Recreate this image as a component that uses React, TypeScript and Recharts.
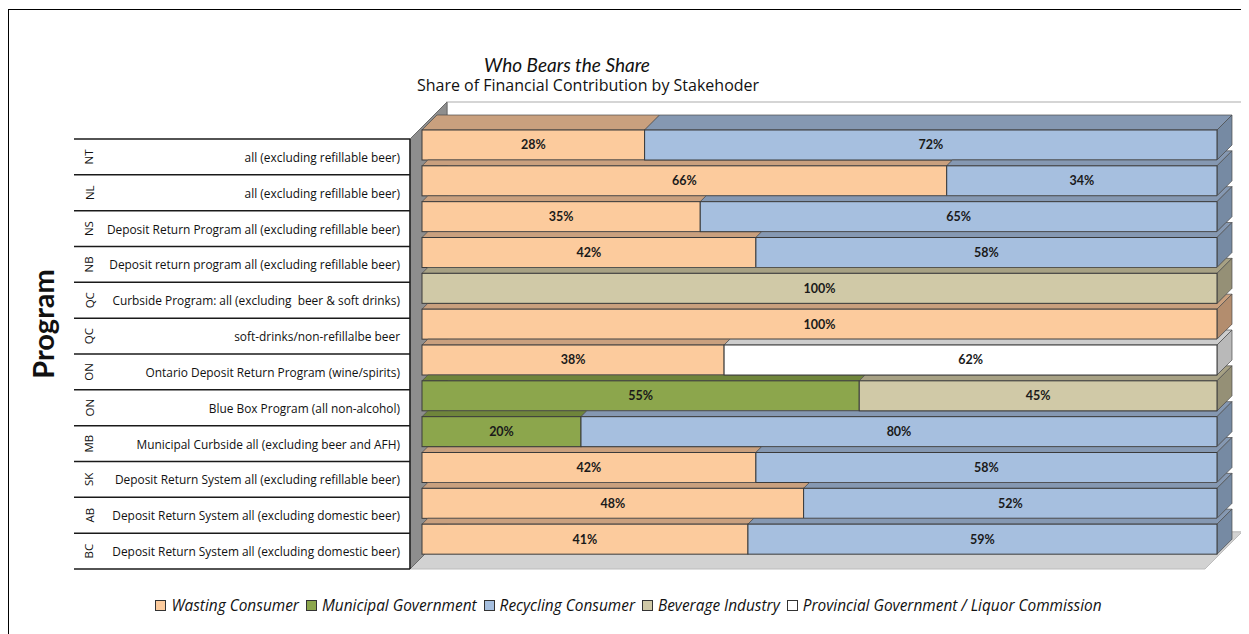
import { BarChart, Bar, XAxis, YAxis, LabelList, Legend } from "recharts";

const provinces = ["NT", "NL", "NS", "NB", "QC", "QC", "ON", "ON", "MB", "SK", "AB", "BC"];
const programs = [
  "all (excluding refillable beer)",
  "all (excluding refillable beer)",
  "Deposit Return Program all (excluding refillable beer)",
  "Deposit return program all (excluding refillable beer)",
  "Curbside Program: all (excluding  beer & soft drinks)",
  "soft-drinks/non-refillalbe beer",
  "Ontario Deposit Return Program (wine/spirits)",
  "Blue Box Program (all non-alcohol)",
  "Municipal Curbside all (excluding beer and AFH)",
  "Deposit Return System all (excluding refillable beer)",
  "Deposit Return System all (excluding domestic beer)",
  "Deposit Return System all (excluding domestic beer)",
];

// share (%) per stakeholder, same order as programs
const wastingConsumer = [28, 66, 35, 42, 0, 100, 38, 0, 0, 42, 48, 41];
const municipalGovernment = [0, 0, 0, 0, 0, 0, 0, 55, 20, 0, 0, 0];
const recyclingConsumer = [72, 34, 65, 58, 0, 0, 0, 0, 80, 58, 52, 59];
const beverageIndustry = [0, 0, 0, 0, 100, 0, 0, 45, 0, 0, 0, 0];
const provincialGovernment = [0, 0, 0, 0, 0, 0, 62, 0, 0, 0, 0, 0];

const series = [
  { key: "wasting", name: "Wasting Consumer", values: wastingConsumer },
  { key: "municipal", name: "Municipal Government", values: municipalGovernment },
  { key: "recycling", name: "Recycling Consumer", values: recyclingConsumer },
  { key: "beverage", name: "Beverage Industry", values: beverageIndustry },
  { key: "provincial", name: "Provincial Government / Liquor Commission", values: provincialGovernment },
];

const colors: Record<string, { front: string; top: string; side: string }> = {
  wasting: { front: "#FCCB9D", top: "#C9A07E", side: "#B38D6E" },
  municipal: { front: "#8CA64C", top: "#6F853B", side: "#617535" },
  recycling: { front: "#A6BFDF", top: "#8598B2", side: "#768AA3" },
  beverage: { front: "#D0C9A7", top: "#A7A184", side: "#959076" },
  provincial: { front: "#FFFFFF", top: "#CDCDCD", side: "#B9B9B9" },
};

const data = provinces.map((p, i) => {
  const row: Record<string, any> = { key: String(i), province: p, program: programs[i] };
  series.forEach((s) => (row[s.key] = s.values[i]));
  return row;
});

const W = 1241;
const H = 626;
const FONT = "Lato, 'Liberation Sans', sans-serif";
const WIDE = "'Open Sans', 'Liberation Sans', sans-serif";
const MARGIN = { top: 119, right: 32, bottom: 77, left: 66 };
const AXIS_W = 348;
const PLOT_X = MARGIN.left + AXIS_W; // 414
const PLOT_R = W - MARGIN.right;
const PLOT_TOP = MARGIN.top;
const PLOT_BOTTOM = H - MARGIN.bottom;
const BAND = (PLOT_BOTTOM - PLOT_TOP) / data.length;
const BAR = 30;
const GAP = BAND - BAR;
const DEPTH = 15; // bar depth
const SHIFT = 12; // bars sit behind the front plane
const WALL = 37; // depth of walls / floor

const pts = (a: number[][]) => a.map((p) => p.join(",")).join(" ");

const makeShape = (idx: number) => (props: any) => {
  const { x, y, width, height, payload } = props;
  if (!width || width < 0.5) return <g />;
  const c = colors[series[idx].key];
  const xe = x + width;
  const isLast = series.slice(idx + 1).every((o) => !payload[o.key]);
  const isTop = payload.key === "0";
  const d = DEPTH;
  const g = GAP;
  let top: number[][];
  if (isTop) top = [[x, y], [x + d, y - d], [xe + d, y - d], [xe, y]];
  else if (isLast) top = [[x, y], [x + g, y - g], [xe, y - g], [xe + d - g, y - d], [xe + d, y - d], [xe, y]];
  else top = [[x, y], [x + g, y - g], [xe + g, y - g], [xe, y]];
  return (
    <g>
      <polygon points={pts(top)} fill={c.top} stroke="#4a4a4a" strokeWidth={0.7} strokeLinejoin="round" />
      {isLast && (
        <polygon
          points={pts([[xe, y], [xe + d, y - d], [xe + d, y + height - d], [xe, y + height]])}
          fill={c.side}
          stroke="#4a4a4a"
          strokeWidth={0.7}
          strokeLinejoin="round"
        />
      )}
      <rect x={x} y={y} width={width} height={height} fill={c.front} stroke="#3a3a3a" strokeWidth={1} />
    </g>
  );
};

function RowTick(props: any) {
  const { y, payload } = props;
  const i = Number(payload.value);
  const cy = y + SHIFT;
  const x0 = MARGIN.left;
  const ax = PLOT_X - SHIFT;
  return (
    <g>
      {i === 0 && <line x1={x0} x2={ax} y1={cy - BAND / 2} y2={cy - BAND / 2} stroke="#1a1a1a" strokeWidth={1.5} />}
      <line x1={x0} x2={ax} y1={cy + BAND / 2} y2={cy + BAND / 2} stroke="#1a1a1a" strokeWidth={1.5} />
      <text
        x={x0 + 15}
        y={cy}
        transform={`rotate(-90 ${x0 + 15} ${cy})`}
        textAnchor="middle"
        dominantBaseline="central"
        fontSize={11.5}
        fontFamily={WIDE}
        fill="#111"
      >
        {provinces[i]}
      </text>
      <text
        x={ax - 10}
        y={cy}
        textAnchor="end"
        dominantBaseline="central"
        fontSize={11.9}
        fontFamily={WIDE}
        fill="#111"
        style={{ whiteSpace: "pre" }}
      >
        {programs[i]}
      </text>
    </g>
  );
}

const renderLegend = () => (
  <div
    style={{
      display: "flex",
      justifyContent: "center",
      gap: 7,
      fontFamily: WIDE,
      fontStyle: "italic",
      fontSize: 15.4,
      color: "#111",
    }}
  >
    {series.map((s) => (
      <span key={s.key} style={{ display: "inline-flex", alignItems: "center" }}>
        <span
          style={{
            width: 9,
            height: 9,
            border: "1px solid #333",
            background: colors[s.key].front,
            marginRight: 5,
          }}
        />
        {s.name}
      </span>
    ))}
  </div>
);

function Backdrop() {
  const fx0 = PLOT_X - SHIFT;
  const fx1 = PLOT_R - SHIFT;
  const fy0 = PLOT_TOP + SHIFT;
  const fy1 = PLOT_BOTTOM + SHIFT;
  return (
    <svg width={W} height={H} style={{ position: "absolute", left: 0, top: 0 }}>
      <text x={559} y={64} textAnchor="middle" fontFamily={FONT} fontStyle="italic" fontSize={19} fill="#111">
        Who Bears the Share
      </text>
      <text x={580} y={83} textAnchor="middle" fontFamily={WIDE} fontSize={16} fill="#111">
        Share of Financial Contribution by Stakehoder
      </text>
      <text
        x={34}
        y={316}
        transform="rotate(-90 34 316)"
        textAnchor="middle"
        dominantBaseline="central"
        fontFamily={FONT}
        fontWeight={700}
        fontSize={29}
        fill="#111"
      >
        Program
      </text>
      {/* back wall */}
      <rect x={fx0 + WALL} y={fy0 - WALL} width={fx1 - fx0} height={fy1 - fy0} fill="#fff" stroke="#c8c8c8" strokeWidth={1.5} />
      {/* floor */}
      <polygon
        points={pts([[fx0, fy1], [fx1, fy1], [fx1 + WALL, fy1 - WALL], [fx0 + WALL, fy1 - WALL]])}
        fill="#d2d2d2"
        stroke="#bdbdbd"
        strokeWidth={1}
      />
      {/* left wall */}
      <polygon
        points={pts([[fx0, fy1], [fx0, fy0], [fx0 + WALL, fy0 - WALL], [fx0 + WALL, fy1 - WALL]])}
        fill="#8e8e8e"
        stroke="#6a6a6a"
        strokeWidth={1}
      />
      <line x1={fx0} x2={fx0} y1={fy0} y2={fy1} stroke="#222" strokeWidth={1.5} />
    </svg>
  );
}

export default function App() {
  return (
    <div style={{ position: "relative", width: W, height: H }}>
      <div
        style={{
          position: "absolute",
          left: 0,
          top: 1,
          width: W + 20,
          height: H + 20,
          borderLeft: "1.5px solid #000",
          borderTop: "1.5px solid #000",
          boxSizing: "border-box",
        }}
      />
      <Backdrop />
      <div style={{ position: "absolute", left: 0, top: 0 }}>
        <BarChart width={W} height={H} data={data} layout="vertical" margin={MARGIN} barSize={BAR}>
          <XAxis type="number" domain={[0, 100]} hide />
          <YAxis
            type="category"
            dataKey="key"
            width={AXIS_W}
            interval={0}
            axisLine={false}
            tickLine={false}
            tickSize={0}
            tickMargin={0}
            tick={<RowTick />}
          />
          <Legend
            layout="horizontal"
            verticalAlign="middle"
            align="center"
            content={renderLegend}
            wrapperStyle={{ top: 587, left: 0, width: W }}
          />
          {series.map((s, idx) => (
            <Bar
              key={s.key}
              dataKey={s.key}
              name={s.name}
              stackId="share"
              fill={colors[s.key].front}
              shape={makeShape(idx)}
              isAnimationActive={false}
            >
              <LabelList
                dataKey={s.key}
                position="center"
                formatter={(v: any) => (v ? `${v}%` : "")}
                style={{ fontFamily: FONT, fontWeight: 700, fontSize: 12.5, fill: "#1a1a1a" }}
              />
            </Bar>
          ))}
        </BarChart>
      </div>
    </div>
  );
}
